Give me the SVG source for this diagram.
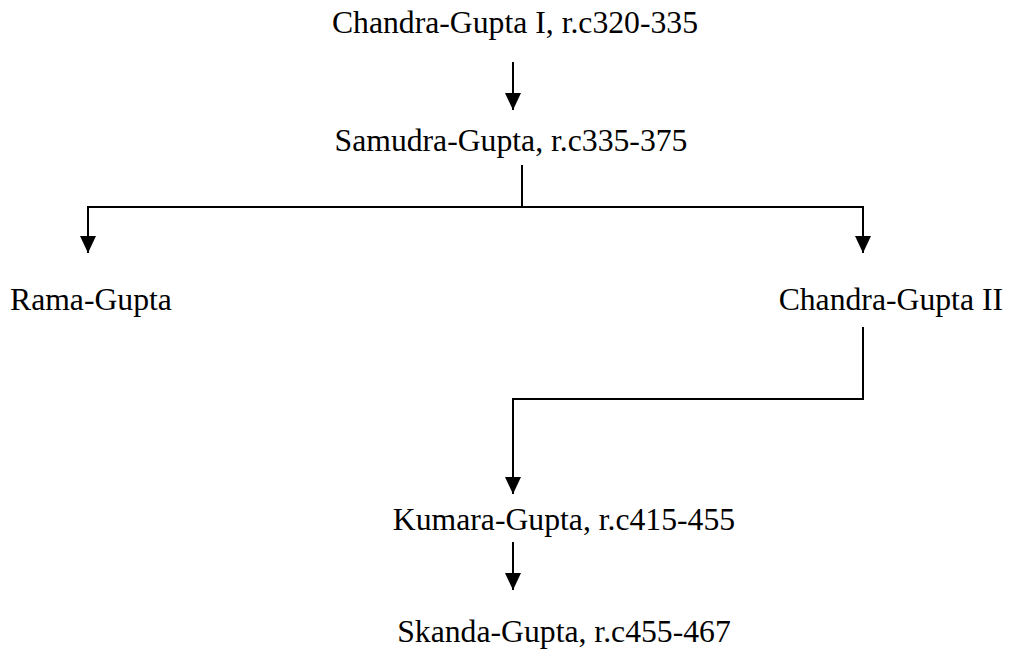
<svg xmlns="http://www.w3.org/2000/svg" width="1011" height="652" viewBox="0 0 1011 652">
  <style>
    .lbl { font-family: "Liberation Serif", "Times New Roman", serif; font-size: 31.7px; fill: #000; }
    .conn { fill: none; stroke: #000; stroke-width: 2; }
  </style>
  <defs>
    <marker id="arr" viewBox="0 0 17 16" refX="17" refY="8" markerWidth="17" markerHeight="16" markerUnits="userSpaceOnUse" orient="auto">
      <path d="M0,0 L17,8 L0,16 Z" fill="#000"/>
    </marker>
  </defs>
  <rect width="1011" height="652" fill="#fff"/>
  <g id="connectors">
    <polyline class="conn" points="513,62 513,110" marker-end="url(#arr)"/>
    <polyline class="conn" points="522,165 522,207"/>
    <polyline class="conn" points="522,207 88,207 88,253" marker-end="url(#arr)"/>
    <polyline class="conn" points="522,207 863,207 863,253" marker-end="url(#arr)"/>
    <polyline class="conn" points="863,327 863,399 513,399 513,494" marker-end="url(#arr)"/>
    <polyline class="conn" points="513,542 513,590" marker-end="url(#arr)"/>
  </g>
  <g id="node-chandragupta1"><text class="lbl" x="515" y="33" text-anchor="middle">Chandra-Gupta I, r.c320-335</text></g>
  <g id="node-samudragupta"><text class="lbl" x="511" y="151" text-anchor="middle">Samudra-Gupta, r.c335-375</text></g>
  <g id="node-ramagupta"><text class="lbl" x="10" y="310">Rama-Gupta</text></g>
  <g id="node-chandragupta2"><text class="lbl" x="1003" y="310" text-anchor="end">Chandra-Gupta II</text></g>
  <g id="node-kumaragupta"><text class="lbl" x="564" y="530" text-anchor="middle">Kumara-Gupta, r.c415-455</text></g>
  <g id="node-skandagupta"><text class="lbl" x="564" y="642" text-anchor="middle">Skanda-Gupta, r.c455-467</text></g>
</svg>
